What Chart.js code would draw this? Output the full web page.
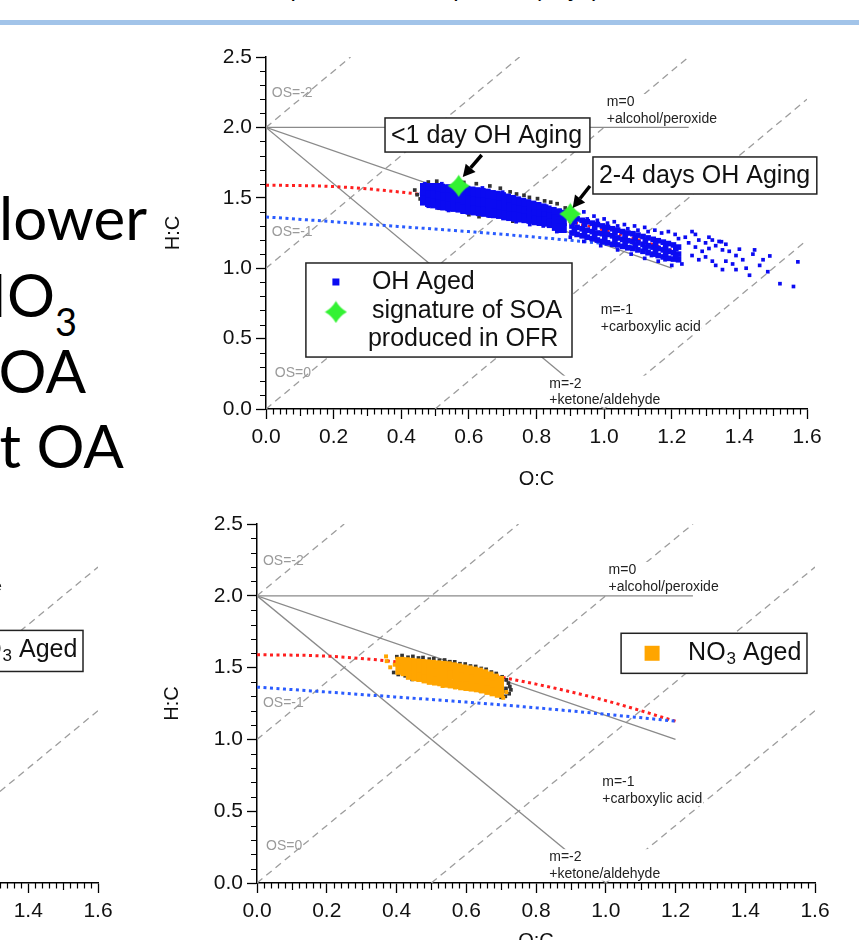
<!DOCTYPE html>
<html>
<head>
<meta charset="utf-8">
<title>Van Krevelen diagrams: OH vs NO3 aged SOA</title>
<script src="https://cdn.jsdelivr.net/npm/chart.js@4.4.1/dist/chart.umd.min.js"></script>
<style>
  html, body { margin: 0; padding: 0; background: #fff; }
  body { position: relative; width: 859px; height: 940px; overflow: hidden; font-family: Arial, "Liberation Sans", sans-serif; }
  .rule { position: absolute; left: 0; top: 20px; width: 859px; height: 5px; background: #a2c4e9; }
  .cut { position: absolute; white-space: nowrap; text-align: right; }
  .big { font-family: Lato, "Open Sans", sans-serif; font-size: 60px; line-height: 60px; color: #000; }
  canvas { position: absolute; }
</style>
</head>
<body>
<div class="cut" style="right:259px; top:-24px; font-size:24px; line-height:24px;">Equivalent OH exposure (days)</div>
<div class="rule"></div>
<div class="cut big" style="right:712px; top:187px;">lower</div>
<div class="cut big" style="right:782px; top:264px;">NO<span style="font-size:38px; position:relative; top:19px;">3</span></div>
<div class="cut big" style="right:773px; top:340px;">SOA</div>
<div class="cut big" style="right:735px; top:415px;">ent OA</div>

<canvas id="vkOH" width="709" height="460" style="left:150px; top:40px;"></canvas>
<canvas id="vkNO3a" width="719" height="470" style="left:-577px; top:505px;"></canvas>
<canvas id="vkNO3" width="719" height="470" style="left:140px; top:505px;"></canvas>

<script>
// ---- data (O:C, H:C) ----
const fitOC = [0, 0.2, 0.4, 0.6, 0.8, 1.0, 1.2];
const redFitHC = [1.59, 1.58, 1.54, 1.475, 1.385, 1.27, 1.127];
const blueFitHC = [1.364, 1.33, 1.295, 1.26, 1.22, 1.175, 1.127];

// oxidation state lines (dashed) and functional group slopes (solid)
const osLines = [
  [[0, 2], [0.25, 2.5]],
  [[0, 1], [0.75, 2.5]],
  [[0, 0], [1.25, 2.5]],
  [[0.5, 0], [1.6, 2.2]],
  [[1.0, 0], [1.6, 1.2]]
];
const slopeLines = [
  [[0, 2], [1.25, 2]],
  [[0, 2], [1.2, 1.0]],
  [[0, 2], [1.0, 0]]
];

const ofrSignature = [[0.57, 1.585], [0.90, 1.385]];

const ohBlack = [
  [0.440,1.555],[0.447,1.522],[0.456,1.492],[0.480,1.612],[0.505,1.618],
  [0.512,1.426],[0.600,1.380],[0.630,1.366],[0.585,1.609],[0.622,1.600],
  [0.662,1.584],[0.693,1.568],[0.722,1.542],[0.741,1.527],[0.763,1.518],[0.779,1.503],[0.803,1.494],
  [0.824,1.478],[0.842,1.469],[0.861,1.458],[0.730,1.334],[0.885,1.428]
];

const ohAgedCore = [
  [0.470,1.570],[0.470,1.525],[0.470,1.480],[0.485,1.570],[0.485,1.520],[0.485,1.470],
  [0.500,1.570],[0.500,1.515],[0.500,1.460],[0.515,1.565],[0.515,1.510],[0.515,1.450],
  [0.530,1.560],[0.530,1.500],[0.530,1.445],[0.545,1.560],[0.545,1.500],[0.545,1.440],
  [0.560,1.555],[0.560,1.495],[0.560,1.435],[0.575,1.550],[0.575,1.490],[0.575,1.430],
  [0.590,1.550],[0.590,1.485],[0.590,1.420],[0.605,1.545],[0.605,1.480],[0.605,1.415],
  [0.620,1.540],[0.620,1.475],[0.620,1.410],[0.635,1.535],[0.635,1.470],[0.635,1.405],
  [0.650,1.530],[0.650,1.465],[0.650,1.400],[0.665,1.520],[0.665,1.460],[0.665,1.395],
  [0.680,1.515],[0.680,1.450],[0.680,1.390],[0.695,1.505],[0.695,1.445],[0.695,1.385],
  [0.710,1.495],[0.710,1.435],[0.710,1.375],[0.725,1.485],[0.725,1.430],[0.725,1.370],
  [0.740,1.475],[0.740,1.420],[0.740,1.365],[0.755,1.465],[0.755,1.410],[0.755,1.360],
  [0.770,1.455],[0.770,1.405],[0.770,1.355],[0.785,1.445],[0.785,1.395],[0.785,1.350],
  [0.800,1.435],[0.800,1.385],[0.800,1.340],[0.815,1.425],[0.815,1.380],[0.815,1.335],
  [0.830,1.410],[0.830,1.370],[0.830,1.330],[0.845,1.400],[0.845,1.360],[0.845,1.320],
  [0.860,1.390],[0.860,1.345],[0.860,1.300],[0.875,1.380],[0.875,1.335],[0.875,1.285]
];

const ohAgedBand = [
  [0.905,1.360],[0.905,1.300],[0.905,1.250],[0.920,1.350],[0.920,1.290],[0.920,1.240],
  [0.935,1.340],[0.935,1.280],[0.935,1.230],[0.950,1.330],[0.950,1.270],[0.950,1.220],
  [0.965,1.320],[0.965,1.260],[0.965,1.210],[0.980,1.310],[0.980,1.250],[0.980,1.200],
  [0.995,1.300],[0.995,1.245],[0.995,1.190],[1.010,1.290],[1.010,1.240],[1.010,1.180],
  [1.025,1.280],[1.025,1.230],[1.025,1.170],[1.040,1.270],[1.040,1.215],[1.040,1.165],
  [1.055,1.260],[1.055,1.205],[1.055,1.155],[1.070,1.250],[1.070,1.195],[1.070,1.145],
  [1.085,1.245],[1.085,1.190],[1.085,1.140],[1.100,1.235],[1.100,1.180],[1.100,1.130],
  [1.115,1.225],[1.115,1.170],[1.115,1.120],[1.130,1.215],[1.130,1.160],[1.130,1.110],
  [1.145,1.205],[1.145,1.150],[1.145,1.100],[1.160,1.195],[1.160,1.140],[1.160,1.090],
  [1.175,1.185],[1.175,1.130],[1.175,1.080],[1.190,1.175],[1.190,1.120],[1.190,1.070],
  [1.205,1.165],[1.205,1.110],[1.205,1.065],[1.220,1.150],[1.220,1.100],[1.220,1.060],
  [0.912,1.330],[0.912,1.272],[0.942,1.312],[0.942,1.248],[0.972,1.288],[0.972,1.232],
  [1.002,1.272],[1.002,1.214],[1.032,1.252],[1.032,1.196],[1.062,1.233],[1.062,1.178],
  [1.092,1.214],[1.092,1.162],[1.122,1.196],[1.122,1.142],[1.152,1.178],[1.152,1.126],
  [1.182,1.156],[1.182,1.104],[1.212,1.139],[1.212,1.086]
];

const ohAgedSparse = [
  [0.880,1.400],[0.900,1.375],[0.920,1.360],[0.940,1.400],[0.950,1.350],[0.970,1.370],[0.980,1.340],
  [1.000,1.350],[1.010,1.320],[1.030,1.330],[1.040,1.300],[1.060,1.310],[1.070,1.280],[1.090,1.300],
  [1.100,1.270],[1.120,1.290],[1.130,1.260],[1.150,1.270],[1.170,1.250],[1.190,1.260],[1.210,1.240],
  [1.220,1.210],[1.240,1.220],[1.260,1.260],[1.250,1.180],[1.270,1.150],[1.280,1.200],[1.290,1.120],
  [1.300,1.180],[1.310,1.140],[1.320,1.200],[1.330,1.160],[1.340,1.190],[1.350,1.130],[1.360,1.170],
  [1.260,1.090],[1.280,1.060],[1.300,1.080],[1.320,1.050],[1.330,1.020],[1.350,0.990],[1.360,1.050],
  [1.380,1.030],[1.390,0.990],[1.400,1.135],[1.410,1.060],[1.420,1.000],[1.430,0.950],[1.440,1.100],
  [1.445,1.130],[1.460,1.020],[1.470,1.060],[1.484,0.975],[1.490,1.087],[1.520,0.890],[1.560,0.870],
  [1.573,1.045],[1.230,1.030],[1.200,1.020],[1.160,1.050],[1.120,1.070],[1.080,1.100],[1.040,1.130],
  [0.990,1.160],[0.940,1.190],[0.900,1.220],[0.860,1.260],[0.820,1.300],[0.780,1.310],[0.740,1.330],
  [0.660,1.370],[0.580,1.400],[0.540,1.410],[0.480,1.440],[0.460,1.530],[0.470,1.600],[0.520,1.600],
  [0.560,1.590],[0.640,1.570],[0.700,1.540],[0.830,1.440],[0.870,1.410],[1.180,1.060],[1.140,1.090],
  [1.270,1.240],[1.310,1.220],[1.370,1.120],[1.390,1.090],[1.347,1.188]
];

const no3Black = [
  [0.392,1.466],[0.401,1.576],[0.416,1.584],[0.433,1.572],[0.447,1.578],[0.463,1.567],[0.476,1.570],
  [0.494,1.559],[0.507,1.562],[0.523,1.550],[0.538,1.553],[0.553,1.541],[0.567,1.540],[0.582,1.527],
  [0.597,1.525],[0.612,1.511],[0.627,1.508],[0.643,1.494],[0.657,1.488],[0.672,1.469],[0.686,1.459],
  [0.703,1.436],[0.715,1.415],[0.721,1.392],[0.725,1.368],[0.728,1.345],[0.723,1.318],[0.712,1.300],
  [0.700,1.293],[0.688,1.313],[0.705,1.335],[0.714,1.355],[0.675,1.325],[0.660,1.331],[0.640,1.340],
  [0.445,1.418],[0.425,1.443],[0.405,1.452]
];

const no3Core = [
  [0.410,1.543],[0.410,1.482],[0.425,1.540],[0.425,1.500],[0.425,1.472],
  [0.440,1.536],[0.440,1.490],[0.440,1.447],[0.455,1.532],[0.455,1.485],[0.455,1.437],
  [0.470,1.528],[0.470,1.480],[0.470,1.432],[0.485,1.525],[0.485,1.475],[0.485,1.422],
  [0.500,1.522],[0.500,1.468],[0.500,1.412],[0.515,1.518],[0.515,1.463],[0.515,1.407],
  [0.530,1.515],[0.530,1.458],[0.530,1.402],[0.545,1.512],[0.545,1.452],[0.545,1.392],
  [0.560,1.505],[0.560,1.447],[0.560,1.387],[0.575,1.498],[0.575,1.440],[0.575,1.382],
  [0.590,1.490],[0.590,1.432],[0.590,1.374],[0.605,1.483],[0.605,1.426],[0.605,1.369],
  [0.620,1.475],[0.620,1.420],[0.620,1.365],[0.635,1.468],[0.635,1.413],[0.635,1.360],
  [0.650,1.456],[0.650,1.404],[0.650,1.352],[0.665,1.441],[0.665,1.393],[0.665,1.342],
  [0.680,1.426],[0.680,1.380],[0.680,1.332],[0.695,1.410],[0.695,1.370],[0.695,1.322]
];

const no3Sparse = [
  [0.370,1.578],[0.372,1.545],[0.382,1.502],[0.395,1.520],[0.405,1.510],[0.706,1.290],
  [0.715,1.330],[0.700,1.395],[0.600,1.355],[0.487,1.406],[0.532,1.372],[0.568,1.362],
  [0.452,1.462],[0.508,1.440],[0.578,1.410],[0.642,1.388],[0.688,1.352]
];

// ---- styling ----
const FONT = 'Arial, "Liberation Sans", sans-serif';
const BLUE = '#0b0bf2';
const ORANGE = '#ffa500';
const DARK = '#333333';
Chart.defaults.font.family = FONT;

function starImage(size, color) {
  const c = document.createElement('canvas');
  c.width = c.height = size;
  const g = c.getContext('2d');
  const m = size / 2, r = size / 2 - 0.5, k = r * 0.36;
  g.fillStyle = color;
  g.beginPath();
  g.moveTo(m, m - r);
  g.quadraticCurveTo(m + k, m - k, m + r, m);
  g.quadraticCurveTo(m + k, m + k, m, m + r);
  g.quadraticCurveTo(m - k, m + k, m - r, m);
  g.quadraticCurveTo(m - k, m - k, m, m - r);
  g.fill();
  return c;
}
const greenStar = starImage(23, '#33f233');

const guideLabels = [
  {x: 1.008, y: [2.18, 2.06], lines: ['m=0', '+alcohol/peroxide'], color: '#222', box: true},
  {x: 0.99, y: [0.70, 0.584], lines: ['m=-1', '+carboxylic acid'], color: '#222', box: true},
  {x: 0.838, y: [0.18, 0.065], lines: ['m=-2', '+ketone/aldehyde'], color: '#222', box: true},
  {x: 0.017, y: [2.244], lines: ['OS=-2'], color: '#9a9a9a'},
  {x: 0.017, y: [1.253], lines: ['OS=-1'], color: '#9a9a9a'},
  {x: 0.026, y: [0.256], lines: ['OS=0'], color: '#9a9a9a'}
];

function guideDatasets() {
  const ds = [];
  osLines.forEach(seg => ds.push({data: seg, showLine: true, borderColor: '#9d9d9d', borderWidth: 1.3,
    borderDash: [7, 5], pointRadius: 0, order: 30}));
  slopeLines.forEach(seg => ds.push({data: seg, showLine: true, borderColor: '#8a8a8a', borderWidth: 1.3,
    pointRadius: 0, order: 29}));
  ds.push({data: fitOC.map((x, i) => [x, redFitHC[i]]), showLine: true, borderColor: '#ff1f1f', borderWidth: 3,
    borderDash: [3, 3.5], pointRadius: 0, cubicInterpolationMode: 'monotone', order: 28});
  ds.push({data: fitOC.map((x, i) => [x, blueFitHC[i]]), showLine: true, borderColor: '#2a5cff', borderWidth: 3,
    borderDash: [3, 3.5], pointRadius: 0, cubicInterpolationMode: 'monotone', order: 27});
  return ds;
}

function pts(data, color, r, order) {
  return {data, backgroundColor: color, pointStyle: 'rect', pointRadius: r, pointBorderWidth: 0, order};
}

// minor ticks, guide labels, text boxes, arrows and the legend
function overlay(spec) {
  return {
    id: 'vkOverlay',
    afterDatasetsDraw(chart) {
      const {ctx, chartArea: a} = chart;
      const X = v => chart.scales.x.getPixelForValue(v);
      const Y = v => chart.scales.y.getPixelForValue(v);
      ctx.save();

      ctx.strokeStyle = '#000';
      ctx.lineWidth = 1.2;
      ctx.beginPath();
      for (let k = 1; k < 80; k++) {
        if (k % 10 === 0) continue;
        const px = Math.round(X(k / 50)) + 0.5;
        ctx.moveTo(px, a.bottom);
        ctx.lineTo(px, a.bottom + (k % 5 === 0 ? 7 : 5.5));
      }
      for (let k = 1; k < 25; k++) {
        if (k % 5 === 0) continue;
        const py = Math.round(Y(k / 10)) + 0.5;
        ctx.moveTo(a.left, py);
        ctx.lineTo(a.left - 6, py);
      }
      ctx.stroke();

      ctx.textBaseline = 'middle';
      ctx.textAlign = 'left';
      ctx.font = '14px ' + FONT;
      guideLabels.forEach(l => {
        const x0 = X(l.x);
        if (l.box) {
          const w = Math.max(...l.lines.map(t => ctx.measureText(t).width));
          const top = Y(l.y[0]) - 8, bot = Y(l.y[l.y.length - 1]) + 7;
          ctx.fillStyle = '#fff';
          ctx.fillRect(x0 - 1, top, w + 2, bot - top);
        }
        ctx.fillStyle = l.color;
        l.lines.forEach((t, i) => ctx.fillText(t, x0, Y(l.y[i])));
      });

      (spec.boxes || []).forEach(b => {
        const x0 = X(b.x0), x1 = X(b.x1), y0 = Y(b.y0), y1 = Y(b.y1);
        ctx.fillStyle = '#fff';
        ctx.fillRect(x0, y0, x1 - x0, y1 - y0);
        ctx.strokeStyle = '#222';
        ctx.lineWidth = 1.5;
        ctx.strokeRect(x0, y0, x1 - x0, y1 - y0);
        ctx.fillStyle = '#111';
        ctx.font = '25px ' + FONT;
        ctx.fillText(b.text, x0 + 6, (y0 + y1) / 2 + 1);
      });

      (spec.arrows || []).forEach(([p, q]) => {
        const x0 = X(p[0]), y0 = Y(p[1]), x1 = X(q[0]), y1 = Y(q[1]);
        const ang = Math.atan2(y1 - y0, x1 - x0);
        const hl = 12, hw = 6.5;
        const bx = x1 - hl * Math.cos(ang), by = y1 - hl * Math.sin(ang);
        ctx.strokeStyle = '#000';
        ctx.lineWidth = 3.5;
        ctx.beginPath();
        ctx.moveTo(x0, y0);
        ctx.lineTo(bx, by);
        ctx.stroke();
        ctx.fillStyle = '#000';
        ctx.beginPath();
        ctx.moveTo(x1, y1);
        ctx.lineTo(bx + hw * Math.sin(ang), by - hw * Math.cos(ang));
        ctx.lineTo(bx - hw * Math.sin(ang), by + hw * Math.cos(ang));
        ctx.closePath();
        ctx.fill();
      });

      const L = spec.legend;
      if (L) {
        const x0 = X(L.x0), x1 = X(L.x1), y0 = Y(L.y0), y1 = Y(L.y1);
        ctx.fillStyle = '#fff';
        ctx.fillRect(x0, y0, x1 - x0, y1 - y0);
        ctx.strokeStyle = '#222';
        ctx.lineWidth = 1.5;
        ctx.strokeRect(x0, y0, x1 - x0, y1 - y0);
        L.rows.forEach(r => {
          if (r.marker === 'square') {
            ctx.fillStyle = r.color;
            ctx.fillRect(x0 + r.mx - r.size / 2, y0 + r.my - r.size / 2, r.size, r.size);
          } else if (r.marker === 'star') {
            ctx.drawImage(greenStar, x0 + r.mx - greenStar.width / 2, y0 + r.my - greenStar.height / 2);
          }
          ctx.fillStyle = '#111';
          ctx.font = '25px ' + FONT;
          let tx = x0 + r.tx;
          const ty = y0 + r.ty;
          ctx.fillText(r.text, tx, ty);
          if (r.sub) {
            tx += ctx.measureText(r.text).width + 1;
            ctx.font = '17px ' + FONT;
            ctx.fillText(r.sub, tx, ty + 6);
            tx += ctx.measureText(r.sub).width;
            ctx.font = '25px ' + FONT;
            ctx.fillText(r.after, tx, ty);
          }
        });
      }
      ctx.restore();
    }
  };
}

function vkChart(id, datasets, lay, spec) {
  return new Chart(document.getElementById(id), {
    type: 'scatter',
    data: {datasets},
    options: {
      responsive: false,
      animation: false,
      events: [],
      layout: {padding: lay.pad},
      plugins: {legend: {display: false}, tooltip: {enabled: false}},
      scales: {
        x: {
          type: 'linear', min: 0, max: 1.6,
          ticks: {stepSize: 0.2, autoSkip: false, maxRotation: 0, padding: 6, color: '#111',
            font: {size: 21}, callback: v => v.toFixed(1)},
          grid: {drawOnChartArea: false, drawTicks: true, tickLength: 10, tickColor: '#000', tickWidth: 1.3},
          border: {display: true, color: '#000', width: 1.5},
          title: {display: true, text: 'O:C', color: '#111', font: {size: 20}, padding: {top: 0, bottom: lay.xTitle}},
          afterFit: s => { s.height = lay.xH; }
        },
        y: {
          type: 'linear', min: 0, max: 2.5,
          ticks: {stepSize: 0.5, autoSkip: false, padding: 4, color: '#111',
            font: {size: 21}, callback: v => v.toFixed(1)},
          grid: {drawOnChartArea: false, drawTicks: true, tickLength: 10, tickColor: '#000', tickWidth: 1.3},
          border: {display: true, color: '#000', width: 1.5},
          title: {display: true, text: 'H:C', color: '#111', font: {size: 20}, padding: {top: lay.yTitle, bottom: 0}},
          afterFit: s => { s.width = lay.yW; }
        }
      }
    },
    plugins: [overlay(spec)]
  });
}

// top: OH aged
vkChart('vkOH', [
  {data: ofrSignature, pointStyle: greenStar, pointRadius: 10, order: 0},
  pts(ohAgedCore, BLUE, 7, 3),
  pts(ohAgedBand, BLUE, 4, 4),
  pts(ohAgedSparse, BLUE, 2.6, 5),
  pts(ohBlack, DARK, 2.6, 6),
  ...guideDatasets()
], {pad: {left: 0, top: 17, right: 52, bottom: 0}, yW: 116, xH: 91, xTitle: 9, yTitle: 11}, {
  boxes: [
    {x0: 0.352, x1: 0.958, y0: 2.067, y1: 1.825, text: '<1 day OH Aging'},
    {x0: 0.967, x1: 1.629, y0: 1.79, y1: 1.527, text: '2-4 days OH Aging'}
  ],
  arrows: [
    [[0.638, 1.804], [0.582, 1.648]],
    [[0.958, 1.584], [0.907, 1.428]]
  ],
  legend: {x0: 0.118, x1: 0.905, y0: 1.037, y1: 0.369, rows: [
    {marker: 'square', color: BLUE, size: 7, mx: 30, my: 19, text: 'OH Aged', tx: 66, ty: 19},
    {marker: 'star', mx: 30, my: 49, text: 'signature of SOA', tx: 66, ty: 48},
    {text: 'produced in OFR', tx: 62, ty: 76}
  ]}
});

const no3Legend = {rows: [
  {marker: 'square', color: ORANGE, size: 15, mx: 31, my: 20, text: 'NO', sub: '3', after: ' Aged', tx: 67, ty: 20}
]};
const bottomLayout = {pad: {left: 0, top: 19, right: 44, bottom: 0}, yW: 117, xH: 92, xTitle: 22, yTitle: 20};

// bottom left (mostly outside the slide)
vkChart('vkNO3a', guideDatasets(), bottomLayout, {
  legend: Object.assign({x0: 1.024, x1: 1.557, y0: 1.759, y1: 1.473}, no3Legend)
});

// bottom right: NO3 aged
vkChart('vkNO3', [
  pts(no3Core, ORANGE, 6.5, 3),
  pts(no3Sparse, ORANGE, 2.8, 4),
  pts(no3Black, DARK, 2.6, 6),
  ...guideDatasets()
], bottomLayout, {
  legend: Object.assign({x0: 1.044, x1: 1.577, y0: 1.739, y1: 1.46}, no3Legend)
});
</script>
</body>
</html>
